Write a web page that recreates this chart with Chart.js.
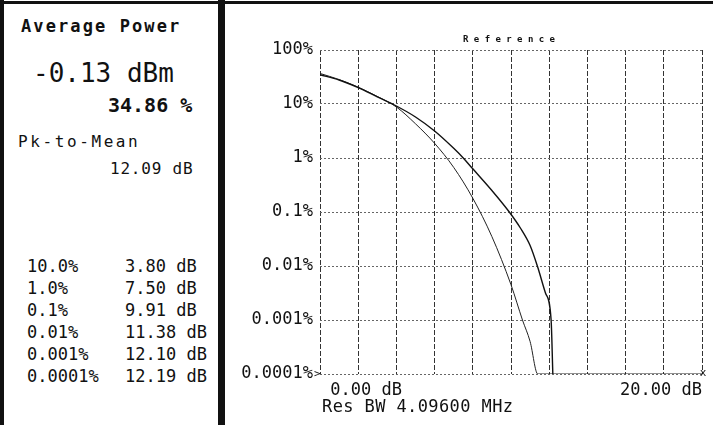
<!DOCTYPE html>
<html>
<head>
<meta charset="utf-8">
<script src="https://cdn.jsdelivr.net/npm/chart.js@4.4.1/dist/chart.umd.min.js"></script>
<style>
  html, body { margin: 0; padding: 0; background: #fff; }
  #page { position: relative; width: 713px; height: 425px; overflow: hidden; background: #fff; font-family: "DejaVu Sans Mono", monospace; color: #111; }
  .t { position: absolute; white-space: pre; line-height: 1; }
  .bar { position: absolute; background: #111; }
  #chartBox { position: absolute; left: 225px; top: 0; width: 488px; height: 425px; }
</style>
</head>
<body>
<div id="page">
  <div class="bar" style="left:0;top:1px;width:713px;height:3px"></div>
  <div class="bar" style="left:0;top:0;width:4px;height:425px"></div>
  <div class="bar" style="left:218px;top:0;width:7px;height:425px"></div>

  <div class="t" style="left:21px;top:18px;font-size:17px;font-weight:bold;letter-spacing:2.1px">Average Power</div>
  <div class="t" style="left:33px;top:60px;font-size:26px">-0.13 dBm</div>
  <div class="t" style="left:108px;top:95px;font-size:20px;font-weight:bold">34.86 %</div>
  <div class="t" style="left:18px;top:134px;font-size:16px;letter-spacing:2.6px">Pk-to-Mean</div>
  <div class="t" style="left:110px;top:161px;font-size:16px;letter-spacing:0.8px">12.09 dB</div>
  <div id="table"></div>

  <div id="chartBox"><canvas id="myChart" width="488" height="425"></canvas></div>
  <div class="t" style="left:463px;top:35px;font-size:9px;font-weight:bold;letter-spacing:5.4px">Reference</div>
  <div class="t" style="left:322px;top:398px;font-size:17px;letter-spacing:0.4px">Res BW 4.09600 MHz</div>
</div>
<script>
// CCDF table on the left panel
const tableProb = ["10.0%", "1.0%", "0.1%", "0.01%", "0.001%", "0.0001%"];
const tableDb = ["3.80 dB", "7.50 dB", "9.91 dB", "11.38 dB", "12.10 dB", "12.19 dB"];

// Gaussian reference trace (dB above average, probability %)
const refDb = [0, 1, 2, 3, 4, 5, 6, 7, 8, 9, 10, 10.6, 11, 11.4, 20];
const refPct = [36.8, 28.4, 20.5, 13.8, 8.8, 4.3, 1.87, 0.67, 0.18, 0.035, 0.0045, 0.001, 0.0004, 0.0001, 0.0001];

// measured trace
const measDb = [0, 1, 2, 3, 3.8, 5, 6, 7, 7.5, 8, 9, 9.91, 10.5, 11, 11.38, 11.8, 12.1, 12.19];
const measPct = [34.9, 27.8, 20.1, 13.6, 10, 5.75, 3.16, 1.51, 1.0, 0.63, 0.25, 0.1, 0.05, 0.024, 0.01, 0.0032, 0.001, 0.0001];

// axis ticks
const yTickValues = [100, 10, 1, 0.1, 0.01, 0.001, 0.0001];
const yTickLabels = ["100%", "10%", "1%", "0.1%", "0.01%", "0.001%", "0.0001%"];
const xTickLabels = { 0: " 0.00 dB", 20: "20.00 dB" };

const table = document.getElementById("table");
tableProb.forEach((p, i) => {
  const top = 258 + i * 22;
  table.insertAdjacentHTML("beforeend",
    `<div class="t" style="left:27px;top:${top}px;font-size:17px">${p}</div>` +
    `<div class="t" style="left:125px;top:${top}px;font-size:17px">${tableDb[i]}</div>`);
});

const toPoints = (xs, ys) => xs.map((x, i) => ({ x: x, y: ys[i] }));

const markers = {
  id: "markers",
  afterDraw(chart) {
    const { ctx, chartArea } = chart;
    ctx.save();
    ctx.fillStyle = "#111";
    ctx.font = "11px 'DejaVu Sans Mono'";
    ctx.textBaseline = "middle";
    ctx.textAlign = "left";
    ctx.fillText(">", chartArea.left - 6, chartArea.bottom);
    ctx.textAlign = "center";
    ctx.fillText("x", chartArea.right + 1, chartArea.bottom - 1);
    ctx.restore();
  },
};

const tickFont = { family: "DejaVu Sans Mono", size: 17 };

new Chart(document.getElementById("myChart"), {
  type: "line",
  data: {
    datasets: [
      {
        label: "Measured",
        data: toPoints(measDb, measPct),
        borderColor: "#111",
        borderWidth: 1.4,
        pointRadius: 0,
        cubicInterpolationMode: "monotone",
      },
      {
        label: "Reference",
        data: toPoints(refDb, refPct),
        borderColor: "#222",
        borderWidth: 1,
        pointRadius: 0,
        cubicInterpolationMode: "monotone",
      },
    ],
  },
  options: {
    responsive: false,
    animation: false,
    layout: { padding: { left: 0, right: 11, top: 50, bottom: 21 } },
    plugins: { legend: { display: false }, tooltip: { enabled: false } },
    scales: {
      x: {
        type: "linear",
        min: 0,
        max: 20,
        afterFit(scale) { scale.height = 30; },
        ticks: {
          stepSize: 2,
          autoSkip: false,
          maxRotation: 0,
          align: "inner",
          padding: 6,
          color: "#111",
          font: tickFont,
          callback: (v) => xTickLabels[v] || "",
        },
        grid: { color: "#333", lineWidth: 1, drawTicks: false },
        border: { display: false, dash: [5, 2] },
      },
      y: {
        type: "logarithmic",
        min: 0.0001,
        max: 100,
        afterFit(scale) { scale.width = 95; },
        afterBuildTicks(scale) { scale.ticks = yTickValues.map((v) => ({ value: v })); },
        ticks: {
          padding: 7,
          color: "#111",
          font: tickFont,
          callback: (v) => yTickLabels[yTickValues.indexOf(v)] ?? "",
        },
        grid: { color: "#666", lineWidth: 1, drawTicks: false },
        border: { display: false, dash: [2, 2] },
      },
    },
  },
  plugins: [markers],
});
</script>
</body>
</html>
